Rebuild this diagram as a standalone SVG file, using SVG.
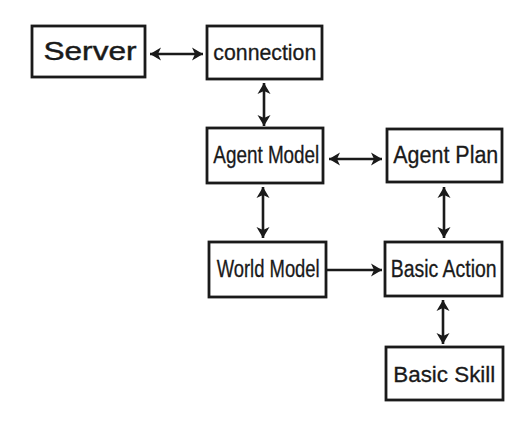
<svg xmlns="http://www.w3.org/2000/svg" width="529" height="431" viewBox="0 0 529 431">
<style>
.box{fill:#fff;stroke:#1a1a1a;stroke-width:2.8}
.lbl{font-family:"Liberation Sans",Arial,sans-serif;fill:#1a1a1a;stroke:#1a1a1a;stroke-width:0.3;text-anchor:start}
.big{stroke-width:0.45}
.con{stroke:#1a1a1a;stroke-width:2.6;fill:none}
</style>
<defs>
<marker id="ah" markerUnits="userSpaceOnUse" markerWidth="14" markerHeight="14" refX="11" refY="6.5" orient="auto-start-reverse" viewBox="0 0 14 13">
<path d="M0,0 L11,6.5 L0,13 L3,6.5 z" fill="#1a1a1a"/>
</marker>
</defs>
<rect width="529" height="431" fill="#fff"/>
<g id="connectors">
<line class="con" x1="150" y1="54" x2="203" y2="54" marker-start="url(#ah)" marker-end="url(#ah)"/>
<line class="con" x1="264" y1="83" x2="264" y2="126" marker-start="url(#ah)" marker-end="url(#ah)"/>
<line class="con" x1="329" y1="159" x2="382" y2="159" marker-start="url(#ah)" marker-end="url(#ah)"/>
<line class="con" x1="263" y1="187" x2="263" y2="238" marker-start="url(#ah)" marker-end="url(#ah)"/>
<line class="con" x1="444" y1="187" x2="444" y2="238" marker-start="url(#ah)" marker-end="url(#ah)"/>
<line class="con" x1="327" y1="270" x2="382" y2="270" marker-end="url(#ah)"/>
<line class="con" x1="443" y1="300" x2="443" y2="344" marker-start="url(#ah)" marker-end="url(#ah)"/>
</g>
<g id="server">
<rect class="box" x="32" y="26" width="113" height="51"/>
<text class="lbl big" x="43.5" y="60.3" font-size="26" textLength="93" lengthAdjust="spacingAndGlyphs">Server</text>
</g>
<g id="connection">
<rect class="box" x="207" y="26" width="115" height="53"/>
<text class="lbl" x="213.3" y="60.3" font-size="22.5" textLength="103" lengthAdjust="spacingAndGlyphs">connection</text>
</g>
<g id="agent-model">
<rect class="box" x="207" y="128" width="116" height="55"/>
<text class="lbl" x="213.3" y="163.3" font-size="23" textLength="106" lengthAdjust="spacingAndGlyphs">Agent Model</text>
</g>
<g id="agent-plan">
<rect class="box" x="387" y="129" width="115" height="53"/>
<text class="lbl" x="393.3" y="163.3" font-size="23" textLength="105" lengthAdjust="spacingAndGlyphs">Agent Plan</text>
</g>
<g id="world-model">
<rect class="box" x="209" y="242" width="117" height="55"/>
<text class="lbl" x="216.7" y="276.7" font-size="23" textLength="103" lengthAdjust="spacingAndGlyphs">World Model</text>
</g>
<g id="basic-action">
<rect class="box" x="385" y="242" width="117" height="54"/>
<text class="lbl" x="390.7" y="276.7" font-size="23" textLength="106" lengthAdjust="spacingAndGlyphs">Basic Action</text>
</g>
<g id="basic-skill">
<rect class="box" x="386" y="347" width="117" height="53"/>
<text class="lbl" x="393.3" y="382" font-size="22" textLength="102" lengthAdjust="spacingAndGlyphs">Basic Skill</text>
</g>
</svg>
